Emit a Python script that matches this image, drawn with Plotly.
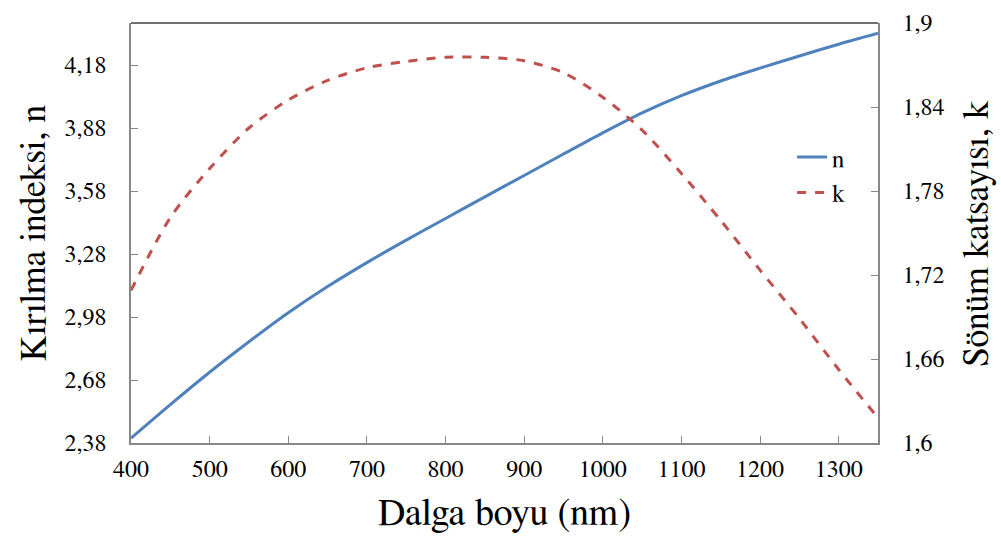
import plotly.graph_objects as go

wavelength = [400, 450, 500, 550, 600, 650, 700, 750, 800, 850, 900, 950,
              1000, 1050, 1100, 1150, 1200, 1250, 1300, 1350]
n_values = [2.403, 2.563, 2.717, 2.862, 3.000, 3.125, 3.239, 3.346, 3.449, 3.552,
            3.654, 3.756, 3.857, 3.952, 4.034, 4.104, 4.165, 4.223, 4.279, 4.331]
k_values = [1.709, 1.761, 1.796, 1.825, 1.845, 1.859, 1.868, 1.8725, 1.8755, 1.8755,
            1.873, 1.8645, 1.847, 1.8235, 1.7925, 1.759, 1.7235, 1.689, 1.6525, 1.618]

x_ticks = [400, 500, 600, 700, 800, 900, 1000, 1100, 1200, 1300]
n_ticks = [2.38, 2.68, 2.98, 3.28, 3.58, 3.88, 4.18]
n_tick_text = ["2,38", "2,68", "2,98", "3,28", "3,58", "3,88", "4,18"]
k_ticks = [1.60, 1.66, 1.72, 1.78, 1.84, 1.90]
k_tick_text = ["1,6", "1,66", "1,72", "1,78", "1,84", "1,9"]

FONT = "FreeSerif"
AX = "#888888"

fig = go.Figure()
fig.add_trace(go.Scatter(x=wavelength, y=n_values, name="n", mode="lines",
                         line=dict(color="#4F81BD", width=3, shape="spline", smoothing=0.8)))
fig.add_trace(go.Scatter(x=wavelength, y=k_values, name="k", mode="lines", yaxis="y2",
                         line=dict(color="#C0504D", width=3, dash="dash", shape="spline",
                                   smoothing=0.8)))

fig.update_layout(
    width=1001, height=538,
    margin=dict(l=131, r=123, t=17, b=95),
    paper_bgcolor="white", plot_bgcolor="white",
    font=dict(family=FONT, size=24, color="black"),
    showlegend=True,
    legend=dict(x=0.885, y=0.735, xanchor="left", yanchor="top",
                bgcolor="rgba(0,0,0,0)", font=dict(size=25, family=FONT),
                tracegroupgap=0, itemwidth=30),
    xaxis=dict(range=[400, 1350], tickvals=x_ticks, ticks="inside", ticklen=7,
               tickcolor=AX, showline=True, linecolor=AX, linewidth=1.5,
               showgrid=False, zeroline=False, ticklabelstandoff=3,
               tickfont=dict(size=24, family=FONT)),
    yaxis=dict(range=[2.38, 4.38], tickvals=n_ticks, ticktext=n_tick_text,
               ticks="inside", ticklen=7, tickcolor=AX, showline=True,
               linecolor=AX, linewidth=1.5, showgrid=False, zeroline=False,
               ticklabelstandoff=18, tickfont=dict(size=24, family=FONT)),
    yaxis2=dict(range=[1.6, 1.9], tickvals=k_ticks, ticktext=k_tick_text,
                overlaying="y", side="right", ticks="inside", ticklen=7,
                tickcolor=AX, showline=True, linecolor=AX, linewidth=1.5,
                showgrid=False, zeroline=False, ticklabelstandoff=18,
                tickfont=dict(size=24, family=FONT)),
    shapes=[dict(type="line", xref="paper", yref="paper", x0=0, x1=1, y0=1, y1=1,
                 line=dict(color="#404040", width=1.5))],
    annotations=[
        dict(text="Dalga boyu (nm)", xref="paper", yref="paper", x=0.5, y=-0.168,
             xanchor="center", yanchor="middle", showarrow=False,
             font=dict(size=38, family=FONT)),
        dict(text="Kırılma indeksi, n", xref="paper", yref="paper", x=-0.13, y=0.5,
             xanchor="center", yanchor="middle", showarrow=False, textangle=-90,
             font=dict(size=36, family=FONT)),
        dict(text="Sönüm katsayısı, k", xref="paper", yref="paper", x=1.132, y=0.5,
             xanchor="center", yanchor="middle", showarrow=False, textangle=-90,
             font=dict(size=36, family=FONT)),
    ],
)

fig.write_html("out.html")
